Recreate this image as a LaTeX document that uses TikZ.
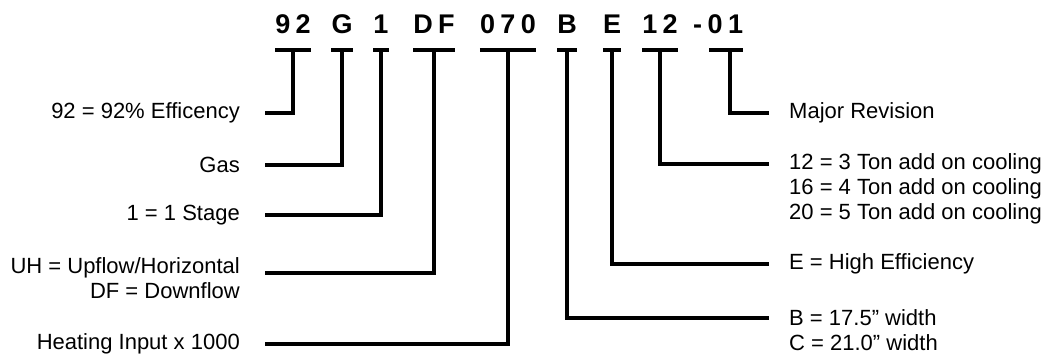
\documentclass[tikz,border=0pt]{standalone}
\usepackage{fontspec}
\setmainfont{Liberation Sans}
\newfontfamily\codefont[LetterSpace=20]{Liberation Sans}
\tikzset{
  code/.style={font=\codefont\bfseries\fontsize{27}{27}\selectfont, inner sep=0pt, anchor=base},
  lbl/.style={font=\fontsize{22}{25}\selectfont, inner sep=0pt},
  lead/.style={line width=3.5pt},
}
\begin{document}
\begin{tikzpicture}[x=1pt,y=-1pt]
\useasboundingbox (0,0) rectangle (1046,354);
% Model number, one node per field
\node[code] (c92) at (293,33) {92};
\node[code] (cG) at (342,33) {G};
\node[code] (c1) at (381,33) {1};
\node[code] (cDF) at (434,33) {DF};
\node[code] (c070) at (508,33) {070};
\node[code] (cB) at (567,33) {B};
\node[code] (cE) at (612,33) {E};
\node[code] (c12) at (660,33) {12};
\node[code, anchor=base west] (c01) at (693,33) {-01};
% Left hand labels
\node[lbl, anchor=east] (l92) at (240,113) {92 = 92\% Efficency};
\node[lbl, anchor=east] (lgas) at (240,165) {Gas};
\node[lbl, anchor=east] (lstage) at (240,215) {1 = 1 Stage};
\node[lbl, anchor=base east] (lflow) at (240,273) {UH = Upflow/Horizontal};
\node[lbl, anchor=base east] (lflow2) at ([yshift=-25pt]lflow.base east) {DF = Downflow};
\node[lbl, anchor=east] (lheat) at (240,344) {Heating Input x 1000};
% Right hand labels
\node[lbl, anchor=west] (lrev) at (789,113) {Major Revision};
\node[lbl, anchor=west] (lton) at (789,164) {12 = 3 Ton add on cooling};
\node[lbl, anchor=base west] (lton2) at ([yshift=-25pt]lton.base west) {16 = 4 Ton add on cooling};
\node[lbl, anchor=base west] (lton3) at ([yshift=-25pt]lton2.base west) {20 = 5 Ton add on cooling};
\node[lbl, anchor=west] (leff) at (789,264) {E = High Efficiency};
\node[lbl, anchor=west] (lwid) at (789,318) {B = 17.5” width};
\node[lbl, anchor=base west] (lwid2) at ([yshift=-25pt]lwid.base west) {C = 21.0” width};
% Bars under each field
\draw[lead] ([yshift=-17pt]c92.base west) -- ([yshift=-17pt]c92.base east);
\draw[lead] ([yshift=-17pt]cG.base west) -- ([yshift=-17pt]cG.base east);
\draw[lead] ([yshift=-17pt]c1.base west) -- ([yshift=-17pt]c1.base east);
\draw[lead] ([yshift=-17pt]cDF.base west) -- ([yshift=-17pt]cDF.base east);
\draw[lead] ([yshift=-17pt]c070.base west) -- ([yshift=-17pt]c070.base east);
\draw[lead] ([yshift=-17pt]cB.base west) -- ([yshift=-17pt]cB.base east);
\draw[lead] ([yshift=-17pt]cE.base west) -- ([yshift=-17pt]cE.base east);
\draw[lead] ([yshift=-17pt]c12.base west) -- ([yshift=-17pt]c12.base east);
\draw[lead] ([xshift=16pt,yshift=-17pt]c01.base west) -- ([yshift=-17pt]c01.base east);
\coordinate (d01) at ([xshift=37pt,yshift=-17pt]c01.base west);
% Leaders to the left
\draw[lead] ([yshift=-17pt]c92.base) |- ([xshift=25pt]l92.east);
\draw[lead] ([yshift=-17pt]cG.base) |- ([xshift=25pt]lgas.east);
\draw[lead] ([yshift=-17pt]c1.base) |- ([xshift=25pt]lstage.east);
\draw[lead] ([yshift=-17pt]cDF.base) |- ([xshift=25pt]lflow.base east);
\draw[lead] ([yshift=-17pt]c070.base) |- ([xshift=25pt]lheat.east);
% Leaders to the right
\draw[lead] (d01) |- ([xshift=-20pt]lrev.west);
\draw[lead] ([yshift=-17pt]c12.base) |- ([xshift=-20pt]lton.west);
\draw[lead] ([yshift=-17pt]cE.base) |- ([xshift=-20pt]leff.west);
\draw[lead] ([yshift=-17pt]cB.base) |- ([xshift=-20pt]lwid.west);
\end{tikzpicture}
\end{document}
